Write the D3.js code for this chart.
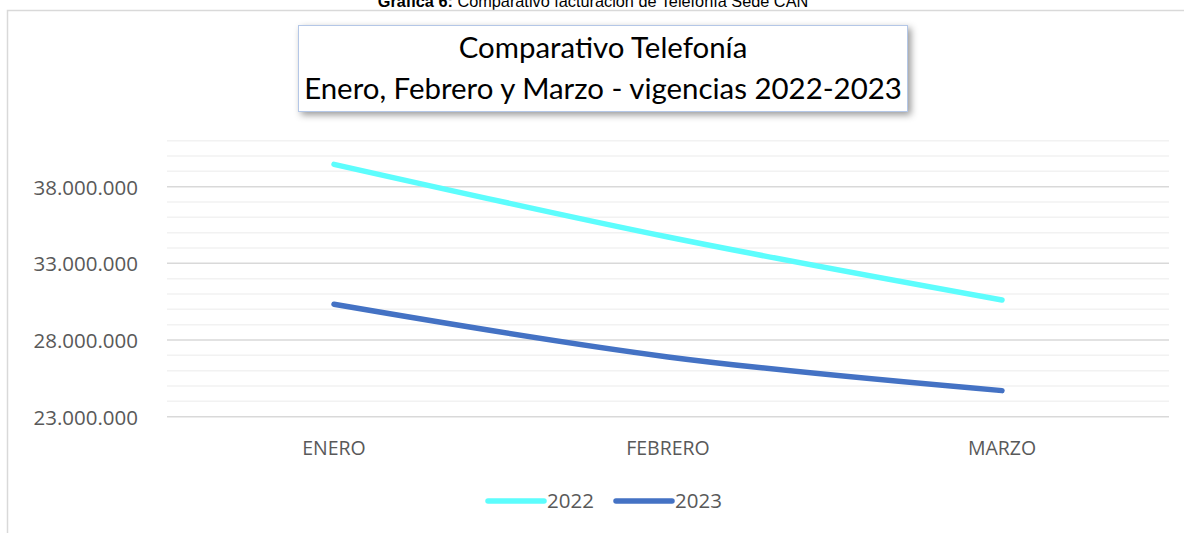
<!DOCTYPE html>
<html><head><meta charset="utf-8">
<script src="https://cdn.jsdelivr.net/npm/d3@7"></script>
<style>body{margin:0;background:#fff}svg{display:block}</style>
</head><body><svg id="c" width="1184" height="533"></svg>
<script>
const categories = ["ENERO", "FEBRERO", "MARZO"];
const seriesNames = ["2022", "2023"];
const values2022 = [39460000, 34720000, 30610000];
const values2023 = [30330000, 26900000, 24700000];
const yTicks = [23000000, 28000000, 33000000, 38000000];
const yMin = 23000000, yMax = 41000000, minorStep = 1000000;
const colors = ["#5dfdfd", "#4472c4"];

const svg = d3.select("#c");
const fmt = v => d3.format(",")(v).replace(/,/g, ".");

// caption
const cap = svg.append("text").attr("x", 593).attr("y", 7).attr("text-anchor", "middle")
  .attr("font-family", "Liberation Sans, Arial").attr("font-size", 16.3).attr("fill", "#000");
cap.append("tspan").attr("font-weight", "bold").text("Gráfica 6:");
cap.append("tspan").text(" Comparativo facturación de Telefonía Sede CAN");

// chart frame
svg.append("path").attr("d", "M7.5,533 V10.5 H1184").attr("fill", "none").attr("stroke", "#d9d9d9").attr("stroke-width", 1.5);

const x = d3.scaleBand().domain(categories).range([167, 1169]);
const y = d3.scaleLinear().domain([yMin, yMax]).range([416.7, 140.7]);

// minor grid
const minor = d3.range(yMin, yMax + 1, minorStep).filter(v => !yTicks.includes(v));
svg.append("g").selectAll("line").data(minor).join("line")
  .attr("x1", 167).attr("x2", 1169).attr("y1", d => y(d)).attr("y2", d => y(d))
  .attr("stroke", "#f2f2f2").attr("stroke-width", 1.5);
// major grid
svg.append("g").selectAll("line").data(yTicks).join("line")
  .attr("x1", 167).attr("x2", 1169).attr("y1", d => y(d)).attr("y2", d => y(d))
  .attr("stroke", "#d9d9d9").attr("stroke-width", 1.5);

// y axis labels
const yAxis = svg.append("g").attr("transform", "translate(138,0)")
  .call(d3.axisLeft(y).tickValues(yTicks).tickFormat(fmt).tickSize(0).tickPadding(0));
yAxis.select(".domain").remove();
yAxis.selectAll("text").attr("font-family", "Open Sans, sans-serif").attr("font-size", 20.5).attr("fill", "#595959").attr("dy", "0.36em");

// x axis labels
const xAxis = svg.append("g").attr("transform", "translate(0,441)")
  .call(d3.axisBottom(x).tickSize(0).tickPadding(0));
xAxis.select(".domain").remove();
xAxis.selectAll("text").attr("font-family", "Open Sans, sans-serif").attr("font-size", 19.5).attr("fill", "#595959").attr("dy", "0.71em");

// lines
const line = d3.line().x((d, i) => x(categories[i]) + x.bandwidth() / 2).y(d => y(d)).curve(d3.curveCatmullRom);
[values2022, values2023].forEach((vals, k) => {
  svg.append("path").datum(vals).attr("d", line).attr("fill", "none")
    .attr("stroke", colors[k]).attr("stroke-width", 5.5).attr("stroke-linecap", "round").attr("stroke-linejoin", "round");
});

// title box
const defs = svg.append("defs");
const f = defs.append("filter").attr("id", "sh").attr("x", "-10%").attr("y", "-30%").attr("width", "120%").attr("height", "170%");
f.append("feDropShadow").attr("dx", 3).attr("dy", 3).attr("stdDeviation", 3.5).attr("flood-color", "#000").attr("flood-opacity", 0.4);
svg.append("rect").attr("x", 298.5).attr("y", 25.5).attr("width", 609).attr("height", 86)
  .attr("fill", "#fff").attr("stroke", "#b4c7e7").attr("stroke-width", 1).attr("filter", "url(#sh)");
const t1 = svg.append("text").attr("x", 603).attr("y", 58).attr("text-anchor", "middle")
  .attr("font-family", "Lato, sans-serif").attr("font-size", 25).attr("fill", "#000").text("Comparativo Telefonía");
const t2 = svg.append("text").attr("x", 603).attr("y", 99).attr("text-anchor", "middle")
  .attr("font-family", "Lato, sans-serif").attr("font-size", 25).attr("fill", "#000").text("Enero, Febrero y Marzo - vigencias 2022-2023");
const w2 = t2.node().getComputedTextLength();
const fs = 25 * 598 / w2;
t1.attr("font-size", fs); t2.attr("font-size", fs);

// legend
const lg = svg.append("g");
const legX = [488, 616];
seriesNames.forEach((s, k) => {
  lg.append("line").attr("x1", legX[k]).attr("x2", legX[k] + 56).attr("y1", 501).attr("y2", 501)
    .attr("stroke", colors[k]).attr("stroke-width", 5.5).attr("stroke-linecap", "round");
  lg.append("text").attr("x", legX[k] + 59).attr("y", 501).attr("dy", "0.36em")
    .attr("font-family", "Open Sans, sans-serif").attr("font-size", 20.5).attr("fill", "#595959").text(s);
});
</script></body></html>
